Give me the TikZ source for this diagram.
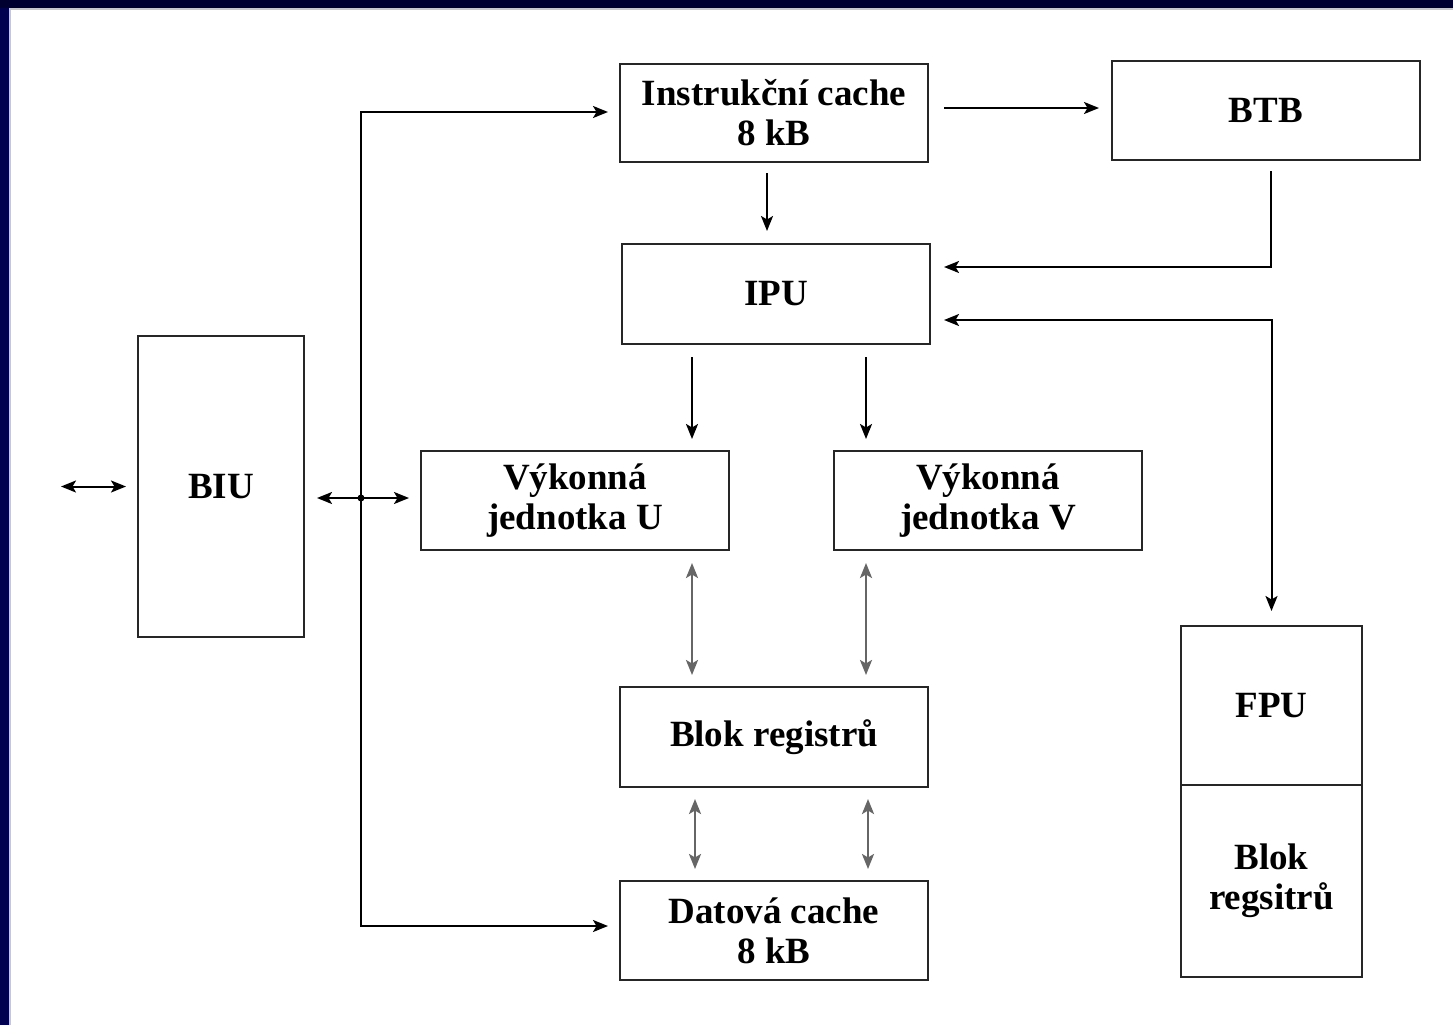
\documentclass[tikz,border=0pt]{standalone}
\usepackage{fontspec}
\setmainfont{Liberation Serif}
\usetikzlibrary{arrows.meta}
\definecolor{navytop}{RGB}{0,0,48}
\definecolor{navyleft}{RGB}{0,0,80}
\definecolor{edgegray}{RGB}{200,200,200}
\begin{document}
\begin{tikzpicture}[x=1pt,y=-1pt,
  box/.style={draw=black!85, line width=2pt, inner sep=0pt, align=center,
    font=\fontsize{37}{40}\selectfont\bfseries},
  tip/.tip={Stealth[length=15pt,width=12pt,inset=3.5pt]},
  conn/.style={line width=2pt, -tip},
  both/.style={line width=2pt, tip-tip},
  grayboth/.style={line width=2.4pt, draw=black!60, tip-tip}]
\useasboundingbox (0,0) rectangle (1453,1025);
% slide frame
\fill[white] (0,0) rectangle (1453,1025);
\fill[navyleft] (0,0) rectangle (9,1025);
\fill[navytop] (0,0) rectangle (1453,8);
\fill[edgegray] (9,8) rectangle (11,1025);
\fill[edgegray] (9,8) rectangle (1453,10);
% boxes
\node[box, minimum width=308pt, minimum height=98pt] (ic) at (774,113) {Instrukční cache\\8 kB};
\node[box, minimum width=308pt, minimum height=99pt] (btb) at (1266,110.5) {BTB};
\node[box, minimum width=308pt, minimum height=100pt] (ipu) at (776,294) {IPU};
\node[box, minimum width=308pt, minimum height=99pt] (u) at (575,500.5) {Výkonná\\jednotka U};
\node[box, minimum width=308pt, minimum height=99pt] (v) at (988,500.5) {Výkonná\\jednotka V};
\node[box, minimum width=308pt, minimum height=100pt] (blok) at (774,737) {Blok registrů};
\node[box, minimum width=308pt, minimum height=99pt] (dc) at (774,930.5) {Datová cache\\8 kB};
\node[box, minimum width=166pt, minimum height=301pt] (biu) at (221,486.5) {BIU};
\node[box, minimum width=181pt, minimum height=159pt] (fpu) at (1271.5,705.5) {FPU};
\node[box, minimum width=181pt, minimum height=192pt] (freg) at (1271.5,881) {Blok\\regsitrů};
% connectors
\draw[conn] ([shift={(15,-5)}]ic.east) -- ([shift={(-12,-2.5)}]btb.west);
\draw[conn] ([shift={(-7,10)}]ic.south) -- ([shift={(-9,-12)}]ipu.north);
\draw[conn] ([shift={(5,10)}]btb.south) |- ([shift={(13,-27)}]ipu.east);
\draw[both] ([shift={(13,26)}]ipu.east) -| ([shift={(0,-14)}]fpu.north);
\draw[conn] ([shift={(-84,12)}]ipu.south) -- ([shift={(117,-11)}]u.north);
\draw[conn] ([shift={(90,12)}]ipu.south) -- ([shift={(-122,-11)}]v.north);
\draw[grayboth] ([shift={(117,12)}]u.south) -- ([shift={(-82,-11)}]blok.north);
\draw[grayboth] ([shift={(-122,12)}]v.south) -- ([shift={(92,-11)}]blok.north);
\draw[grayboth] ([shift={(-79,11)}]blok.south) -- ([shift={(-79,-11)}]dc.north);
\draw[grayboth] ([shift={(94,11)}]blok.south) -- ([shift={(94,-11)}]dc.north);
\coordinate (ext) at ([xshift=-76]biu.west);
\draw[both] (ext) -- ([xshift=-11]biu.west);
\coordinate (bus) at (361,498);
\draw[both] ([shift={(12,11.5)}]biu.east) -- ([shift={(-11,-2.5)}]u.west);
\draw[conn] (bus) |- ([shift={(-11,-1)}]ic.west);
\draw[conn] (bus) |- ([shift={(-11,-4.5)}]dc.west);
\fill (bus) circle (3.5pt);
\end{tikzpicture}
\end{document}
